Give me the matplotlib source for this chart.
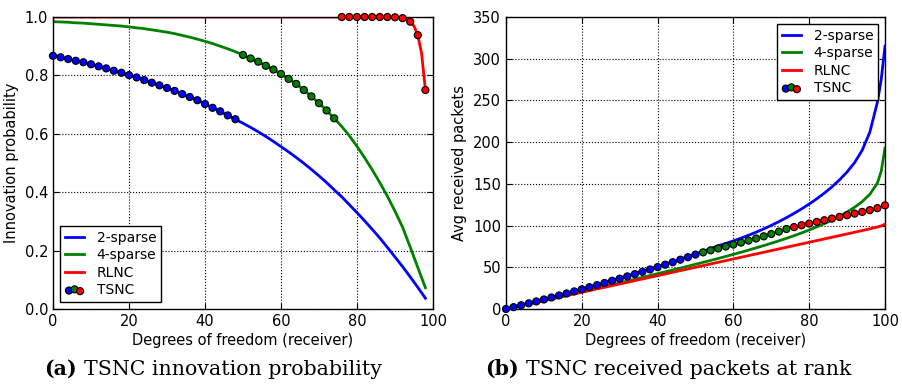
import numpy as np
import matplotlib
matplotlib.use("Agg")
import matplotlib.pyplot as plt

# ---------------- data: (a) innovation probability ----------------
dof_a = list(range(0, 99, 2))
p_2sparse = [0.867, 0.862, 0.856, 0.850, 0.845, 0.838, 0.831, 0.824, 0.816, 0.809,
             0.801, 0.793, 0.784, 0.775, 0.766, 0.757, 0.747, 0.736, 0.726, 0.715,
             0.702, 0.689, 0.677, 0.663, 0.650, 0.636, 0.622, 0.607, 0.591, 0.574,
             0.556, 0.538, 0.519, 0.499, 0.478, 0.456, 0.433, 0.408, 0.384, 0.357,
             0.330, 0.302, 0.273, 0.243, 0.211, 0.178, 0.145, 0.110, 0.074, 0.037]
p_4sparse = [0.984, 0.983, 0.982, 0.980, 0.979, 0.977, 0.975, 0.973, 0.971, 0.969,
             0.966, 0.963, 0.960, 0.956, 0.952, 0.948, 0.943, 0.937, 0.931, 0.924,
             0.917, 0.909, 0.900, 0.891, 0.881, 0.870, 0.858, 0.847, 0.833, 0.820,
             0.805, 0.788, 0.771, 0.750, 0.728, 0.705, 0.680, 0.653, 0.625, 0.593,
             0.557, 0.518, 0.477, 0.433, 0.386, 0.335, 0.280, 0.212, 0.142, 0.073]
rlnc_dof_a = [0, 88, 90, 92, 93, 94, 95, 96, 97, 98]
p_rlnc = [1.0, 1.0, 0.999, 0.996, 0.992, 0.984, 0.969, 0.938, 0.875, 0.75]
# TSNC: follows 2-sparse, then 4-sparse, then RLNC
tsnc_red_a = [1.0, 1.0, 1.0, 1.0, 1.0, 1.0, 1.0, 0.999, 0.996, 0.984, 0.938, 0.75]
n_blue_a, n_green_a = 25, 13

# ---------------- data: (b) received packets at rank ----------------
line_dof_b = list(range(0, 99, 2)) + [99, 100]
n_2sparse = [0, 2.3, 4.6, 7.0, 9.3, 11.7, 14.1, 16.5, 19.0, 21.5,
             24.0, 26.5, 29.1, 31.7, 34.3, 37.0, 39.7, 42.4, 45.2, 48.0,
             50.9, 53.8, 56.8, 59.8, 62.9, 66.0, 69.2, 72.5, 75.8, 78.6,
             81.6, 84.9, 88.4, 92.1, 96.0, 100.2, 104.7, 109.5, 114.6, 120.0,
             125.8, 132.1, 138.9, 146.4, 154.8, 164.3, 175.6, 190.5, 212.0, 248.0,
             275.0, 315.0]
n_4sparse = [0, 2.0, 4.1, 6.1, 8.1, 10.2, 12.2, 14.3, 16.4, 18.5,
             20.6, 22.7, 24.8, 27.0, 29.1, 31.3, 33.5, 35.6, 37.9, 40.1,
             42.4, 44.6, 46.8, 49.0, 51.3, 53.6, 55.9, 58.2, 60.6, 63.0,
             65.5, 68.0, 70.6, 73.3, 76.0, 78.8, 81.7, 84.7, 87.9, 91.2,
             94.7, 98.4, 102.4, 106.6, 111.2, 116.3, 122.0, 128.8, 137.5, 151.0,
             165.0, 193.0]
rlnc_dof_b = [0, 90, 92, 94, 96, 98, 99, 100]
n_rlnc = [0, 90.0, 92.0, 94.0, 96.1, 98.3, 99.6, 101.6]
tsnc_dof_b = list(range(0, 101, 2))
n_tsnc = [0, 2.2, 4.5, 6.8, 9.1, 11.4, 13.8, 16.2, 18.6, 21.1,
          23.6, 26.1, 28.6, 31.2, 33.8, 36.4, 39.1, 41.8, 44.6, 47.4,
          50.2, 53.1, 56.1, 59.1, 62.1, 65.2,
          67.9, 70.3, 72.6, 74.9, 77.2, 79.6, 82.0, 84.5, 87.1, 89.9, 92.8, 95.9,
          98.2, 100.4, 102.4, 104.4, 106.4, 108.4, 110.4, 112.4, 114.4, 116.4,
          118.5, 120.9, 124.2]
n_blue_b, n_green_b = 26, 12

labels = ["2-sparse", "4-sparse", "RLNC", "TSNC"]
BLUE, GREEN, RED = "#0000ff", "#008000", "#ff0000"

plt.rcParams.update({
    "font.family": "DejaVu Sans",
    "font.size": 10.5,
    "xtick.direction": "in",
    "ytick.direction": "in",
    "xtick.top": True,
    "ytick.right": True,
    "xtick.major.size": 4,
    "ytick.major.size": 4,
    "axes.linewidth": 1.0,
})

W, H = 902, 390
fig = plt.figure(figsize=(W / 100, H / 100), dpi=100)
ax1 = fig.add_axes([53 / W, 81 / H, 380 / W, 292 / H])
ax2 = fig.add_axes([506 / W, 81 / H, 379 / W, 292 / H])

LW = 2.0
MS = 26


def tsnc_colors(nb, ng, n):
    return [BLUE] * nb + [GREEN] * ng + [RED] * (n - nb - ng)


def style(ax):
    ax.grid(True, linestyle=":", color="k", linewidth=0.8)
    ax.set_axisbelow(True)
    ax.set_xlabel("Degrees of freedom (receiver)", labelpad=3)


# ---- (a)
h1, = ax1.plot(dof_a, p_2sparse, color=BLUE, lw=LW)
h2, = ax1.plot(dof_a, p_4sparse, color=GREEN, lw=LW)
h3, = ax1.plot(rlnc_dof_a, p_rlnc, color=RED, lw=LW)
tsnc_a = p_2sparse[:n_blue_a] + p_4sparse[n_blue_a:n_blue_a + n_green_a] + tsnc_red_a
ax1.scatter(dof_a, tsnc_a, c=tsnc_colors(n_blue_a, n_green_a, len(dof_a)),
            s=MS, edgecolors="k", linewidths=0.8, zorder=5, clip_on=False)
h4 = ax1.scatter([np.nan] * 3, [np.nan] * 3, c=[BLUE, GREEN, RED], s=MS,
                 edgecolors="k", linewidths=0.8)
ax1.set_xlim(0, 100)
ax1.set_ylim(0, 1.0)
ax1.set_xticks(np.arange(0, 101, 20))
ax1.set_yticks(np.arange(0, 1.01, 0.2))
ax1.set_ylabel("Innovation probability")
style(ax1)
leg_kw = dict(fancybox=False, edgecolor="k", framealpha=1, scatterpoints=3,
              scatteryoffsets=[0.375, 0.5, 0.3125], handlelength=1.4,
              handletextpad=0.9, labelspacing=0.25, borderpad=0.35,
              borderaxespad=0.5, fontsize=10)
l1 = ax1.legend([h1, h2, h3, h4], labels, loc="lower left", **leg_kw)
l1.get_frame().set_linewidth(1.0)

# ---- (b)
g1, = ax2.plot(line_dof_b, n_2sparse, color=BLUE, lw=LW)
g2, = ax2.plot(line_dof_b, n_4sparse, color=GREEN, lw=LW)
g3, = ax2.plot(rlnc_dof_b, n_rlnc, color=RED, lw=LW)
ax2.scatter(tsnc_dof_b, n_tsnc, c=tsnc_colors(n_blue_b, n_green_b, len(tsnc_dof_b)),
            s=MS, edgecolors="k", linewidths=0.8, zorder=5, clip_on=False)
g4 = ax2.scatter([np.nan] * 3, [np.nan] * 3, c=[BLUE, GREEN, RED], s=MS,
                 edgecolors="k", linewidths=0.8)
ax2.set_xlim(0, 100)
ax2.set_ylim(0, 350)
ax2.set_xticks(np.arange(0, 101, 20))
ax2.set_yticks(np.arange(0, 351, 50))
ax2.set_ylabel("Avg received packets")
style(ax2)
l2 = ax2.legend([g1, g2, g3, g4], labels, loc="upper right", **leg_kw)
l2.get_frame().set_linewidth(1.0)

# ---- captions (bold tag + regular text, placed side by side)
cap_font = "DejaVu Serif"
cap_size = 14.8
renderer = fig.canvas.get_renderer()
base_y = 1 - 375 / H
for left_px, tag, text in [(44, "(a)", "TSNC innovation probability"),
                           (485, "(b)", "TSNC received packets at rank")]:
    t1 = fig.text(left_px / W, base_y, tag, family=cap_font, fontsize=cap_size,
                  fontweight="bold", ha="left", va="baseline")
    bb = t1.get_window_extent(renderer)
    fig.text((bb.x1 + 7) / W, base_y, text, family=cap_font, fontsize=cap_size,
             ha="left", va="baseline")

fig.savefig("out.png", dpi=100, facecolor="white")
